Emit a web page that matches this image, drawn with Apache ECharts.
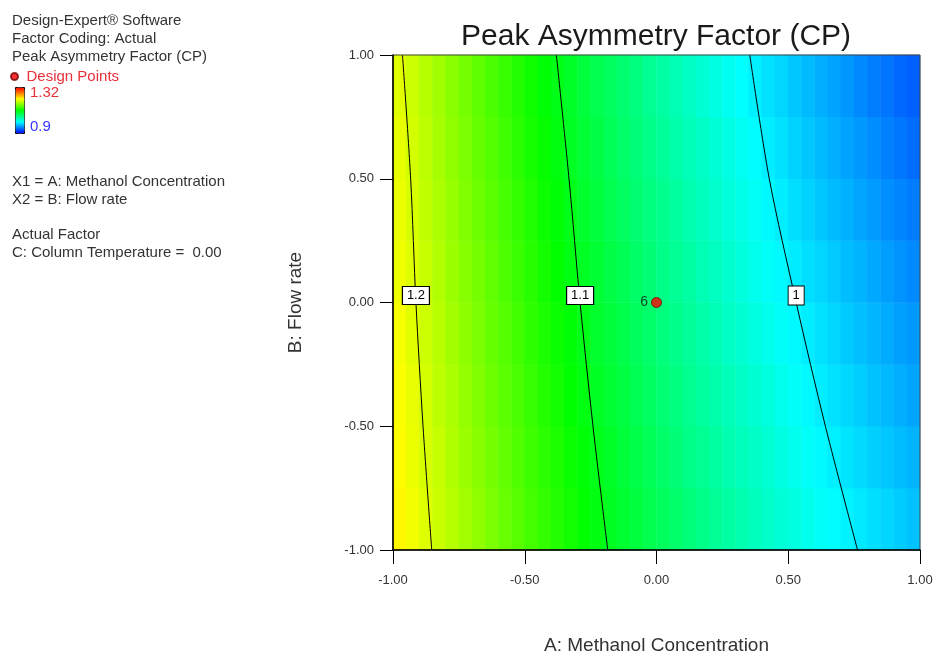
<!DOCTYPE html>
<html>
<head>
<meta charset="utf-8">
<script src="https://cdn.jsdelivr.net/npm/echarts@6/dist/echarts.min.js"></script>
<style>
html, body { margin: 0; padding: 0; background: #fff; }
#chart { width: 936px; height: 653px; }
</style>
</head>
<body>
<div id="chart"></div>
<script>
// cell centres of the colour map: A = methanol concentration, B = flow rate
const colA = [-0.975, -0.925, -0.875, -0.825, -0.775, -0.725, -0.675, -0.625, -0.575, -0.525,
              -0.475, -0.425, -0.375, -0.325, -0.275, -0.225, -0.175, -0.125, -0.075, -0.025,
              0.025, 0.075, 0.125, 0.175, 0.225, 0.275, 0.325, 0.375, 0.425, 0.475,
              0.525, 0.575, 0.625, 0.675, 0.725, 0.775, 0.825, 0.875, 0.925, 0.975];
const rowB = [-0.875, -0.625, -0.375, -0.125, 0.125, 0.375, 0.625, 0.875];

// peak asymmetry, one row per B (bottom to top)
const surface = [
  [1.218, 1.210, 1.201, 1.193, 1.185, 1.177, 1.169, 1.161, 1.153, 1.146, 1.138, 1.131, 1.124, 1.117, 1.110, 1.103, 1.097, 1.090, 1.084, 1.078,
   1.072, 1.066, 1.060, 1.054, 1.048, 1.043, 1.038, 1.032, 1.027, 1.022, 1.018, 1.013, 1.008, 1.004, 1.000, 0.996, 0.992, 0.988, 0.984, 0.980],
  [1.216, 1.207, 1.199, 1.191, 1.182, 1.174, 1.166, 1.158, 1.150, 1.143, 1.135, 1.128, 1.121, 1.114, 1.107, 1.100, 1.093, 1.086, 1.080, 1.074,
   1.067, 1.061, 1.055, 1.050, 1.044, 1.038, 1.033, 1.028, 1.023, 1.017, 1.013, 1.008, 1.003, 0.999, 0.994, 0.990, 0.986, 0.982, 0.978, 0.974],
  [1.214, 1.205, 1.197, 1.188, 1.180, 1.171, 1.163, 1.155, 1.147, 1.140, 1.132, 1.125, 1.117, 1.110, 1.103, 1.096, 1.089, 1.083, 1.076, 1.070,
   1.063, 1.057, 1.051, 1.045, 1.039, 1.034, 1.028, 1.023, 1.018, 1.013, 1.008, 1.003, 0.998, 0.993, 0.989, 0.985, 0.980, 0.976, 0.972, 0.968],
  [1.212, 1.203, 1.194, 1.186, 1.177, 1.169, 1.161, 1.152, 1.145, 1.137, 1.129, 1.121, 1.114, 1.107, 1.100, 1.092, 1.086, 1.079, 1.072, 1.066,
   1.059, 1.053, 1.047, 1.041, 1.035, 1.029, 1.024, 1.018, 1.013, 1.008, 1.003, 0.998, 0.993, 0.988, 0.983, 0.979, 0.975, 0.971, 0.966, 0.963],
  [1.209, 1.201, 1.192, 1.183, 1.174, 1.166, 1.158, 1.150, 1.142, 1.134, 1.126, 1.118, 1.111, 1.103, 1.096, 1.089, 1.082, 1.075, 1.068, 1.062,
   1.055, 1.049, 1.043, 1.036, 1.031, 1.025, 1.019, 1.013, 1.008, 1.003, 0.997, 0.992, 0.988, 0.983, 0.978, 0.974, 0.969, 0.965, 0.961, 0.957],
  [1.207, 1.198, 1.189, 1.181, 1.172, 1.163, 1.155, 1.147, 1.139, 1.131, 1.123, 1.115, 1.107, 1.100, 1.092, 1.085, 1.078, 1.071, 1.064, 1.058,
   1.051, 1.045, 1.038, 1.032, 1.026, 1.020, 1.014, 1.009, 1.003, 0.998, 0.992, 0.987, 0.982, 0.977, 0.973, 0.968, 0.964, 0.959, 0.955, 0.951],
  [1.205, 1.196, 1.187, 1.178, 1.169, 1.161, 1.152, 1.144, 1.136, 1.127, 1.119, 1.112, 1.104, 1.096, 1.089, 1.082, 1.074, 1.067, 1.060, 1.054,
   1.047, 1.040, 1.034, 1.028, 1.022, 1.016, 1.010, 1.004, 0.998, 0.993, 0.987, 0.982, 0.977, 0.972, 0.967, 0.963, 0.958, 0.953, 0.949, 0.945],
  [1.203, 1.194, 1.184, 1.176, 1.167, 1.158, 1.149, 1.141, 1.133, 1.124, 1.116, 1.108, 1.101, 1.093, 1.085, 1.078, 1.071, 1.064, 1.057, 1.050,
   1.043, 1.036, 1.030, 1.023, 1.017, 1.011, 1.005, 0.999, 0.993, 0.988, 0.982, 0.977, 0.972, 0.967, 0.962, 0.957, 0.952, 0.948, 0.943, 0.939]
];

// contour lines [A, B]
const contour12 = [[-0.964, 1], [-0.933, 0.5], [-0.913, 0], [-0.886, -0.5], [-0.853, -1]];
const contour11 = [[-0.380, 1], [-0.332, 0.5], [-0.290, 0], [-0.241, -0.5], [-0.185, -1]];
const contour10 = [[0.354, 1], [0.428, 0.5], [0.530, 0], [0.641, -0.5], [0.763, -1]];
const contourLabels = [[-0.913, 0, '1.2'], [-0.290, 0, '1.1'], [0.530, 0, '1']];

const designPoints = [[0, 0, '6']];
const colorMin = 0.9;
const colorMax = 1.32;

const font = '"Liberation Sans", Arial, sans-serif';
const chart = echarts.init(document.getElementById('chart'));

const heatData = [];
surface.forEach((row, j) => row.forEach((v, i) => heatData.push([i, j, v])));

const contourLine = (data) => ({
  type: 'line', data: data, xAxisIndex: 0, yAxisIndex: 0,
  smooth: 0.3, symbol: 'none', silent: true, z: 3,
  lineStyle: { color: '#000', width: 1 }
});

const sideText = (text, top, color, left) => ({
  type: 'text', left: left || 12, top: top,
  style: { text: text, fill: color || '#333', font: '15px ' + font }
});

const option = {
  animation: false,
  title: {
    text: 'Peak Asymmetry Factor (CP)',
    left: 456, top: 17,
    textStyle: { fontSize: 30, fontWeight: 'normal', color: '#1a1a1a', fontFamily: font }
  },
  legend: {
    data: ['Design Points'], left: 10, top: 69, icon: 'circle',
    itemWidth: 14, itemHeight: 7, padding: 0,
    textStyle: { color: '#e8303a', fontSize: 15, fontFamily: font }
  },
  visualMap: {
    type: 'continuous', min: colorMin, max: colorMax, seriesIndex: 0,
    calculable: false, left: 15, top: 87, itemWidth: 9, itemHeight: 46,
    padding: 0, borderColor: '#000', borderWidth: 1,
    inRange: { color: ['#0000ff', '#00ffff', '#00ff00', '#ffff00', '#ff0000'] }
  },
  graphic: [
    sideText('Design-Expert® Software', 13),
    sideText('Factor Coding: Actual', 31),
    sideText('Peak Asymmetry Factor (CP)', 49),
    sideText('1.32', 85, '#e8303a', 30),
    sideText('0.9', 119, '#3535ff', 30),
    sideText('X1 = A: Methanol Concentration', 174),
    sideText('X2 = B: Flow rate', 192),
    sideText('Actual Factor', 227),
    sideText('C: Column Temperature =  0.00', 245)
  ],
  grid: {
    left: 393, right: 16, top: 55, bottom: 103, outerBoundsMode: 'none',
    show: true, borderColor: '#444', borderWidth: 1,
    backgroundColor: 'rgba(0,0,0,0)', z: 5
  },
  xAxis: [{
    type: 'value', min: -1, max: 1, interval: 0.5, z: 10,
    name: 'A: Methanol Concentration', nameLocation: 'middle', nameGap: 86,
    nameTextStyle: { fontSize: 19, color: '#333', fontFamily: font },
    axisLine: { onZero: false, lineStyle: { color: '#000', width: 1.5 } },
    axisTick: { length: 14, lineStyle: { color: '#000' } },
    axisLabel: { formatter: v => v.toFixed(2), color: '#333', fontSize: 13, margin: 24, fontFamily: font },
    splitLine: { show: false }
  }, {
    type: 'category', data: colA, show: false
  }],
  yAxis: [{
    type: 'value', min: -1, max: 1, interval: 0.5, z: 10,
    name: 'B: Flow rate', nameLocation: 'middle', nameGap: 88,
    nameTextStyle: { fontSize: 19, color: '#333', fontFamily: font },
    axisLine: { onZero: false, lineStyle: { color: '#000', width: 1.5 } },
    axisTick: { length: 13, lineStyle: { color: '#000' } },
    axisLabel: { formatter: v => v.toFixed(2), color: '#333', fontSize: 13, margin: 19, fontFamily: font },
    splitLine: { show: false }
  }, {
    type: 'category', data: rowB, show: false
  }],
  series: [
    {
      type: 'heatmap', data: heatData, xAxisIndex: 1, yAxisIndex: 1,
      silent: true, progressive: 0, itemStyle: { borderWidth: 0 }
    },
    contourLine(contour12),
    contourLine(contour11),
    contourLine(contour10),
    {
      type: 'scatter', data: contourLabels, xAxisIndex: 0, yAxisIndex: 0,
      symbol: 'rect', symbolSize: v => (v[2].length > 1 ? [27, 18] : [16, 19]),
      symbolOffset: [0, -7], silent: true, z: 6,
      itemStyle: { color: '#fff', borderColor: '#000', borderWidth: 1, opacity: 1 },
      label: {
        show: true, position: 'inside',
        formatter: p => p.data[2], color: '#000', fontSize: 13, fontFamily: font
      }
    },
    {
      name: 'Design Points', type: 'scatter', data: designPoints,
      xAxisIndex: 0, yAxisIndex: 0, symbolSize: 10, z: 7,
      itemStyle: { color: '#ff0000', borderColor: '#700', borderWidth: 1 },
      label: {
        show: true, position: 'left', distance: 3, formatter: p => p.data[2],
        color: '#111', fontSize: 14, fontFamily: font
      }
    }
  ]
};

chart.setOption(option);
</script>
</body>
</html>
